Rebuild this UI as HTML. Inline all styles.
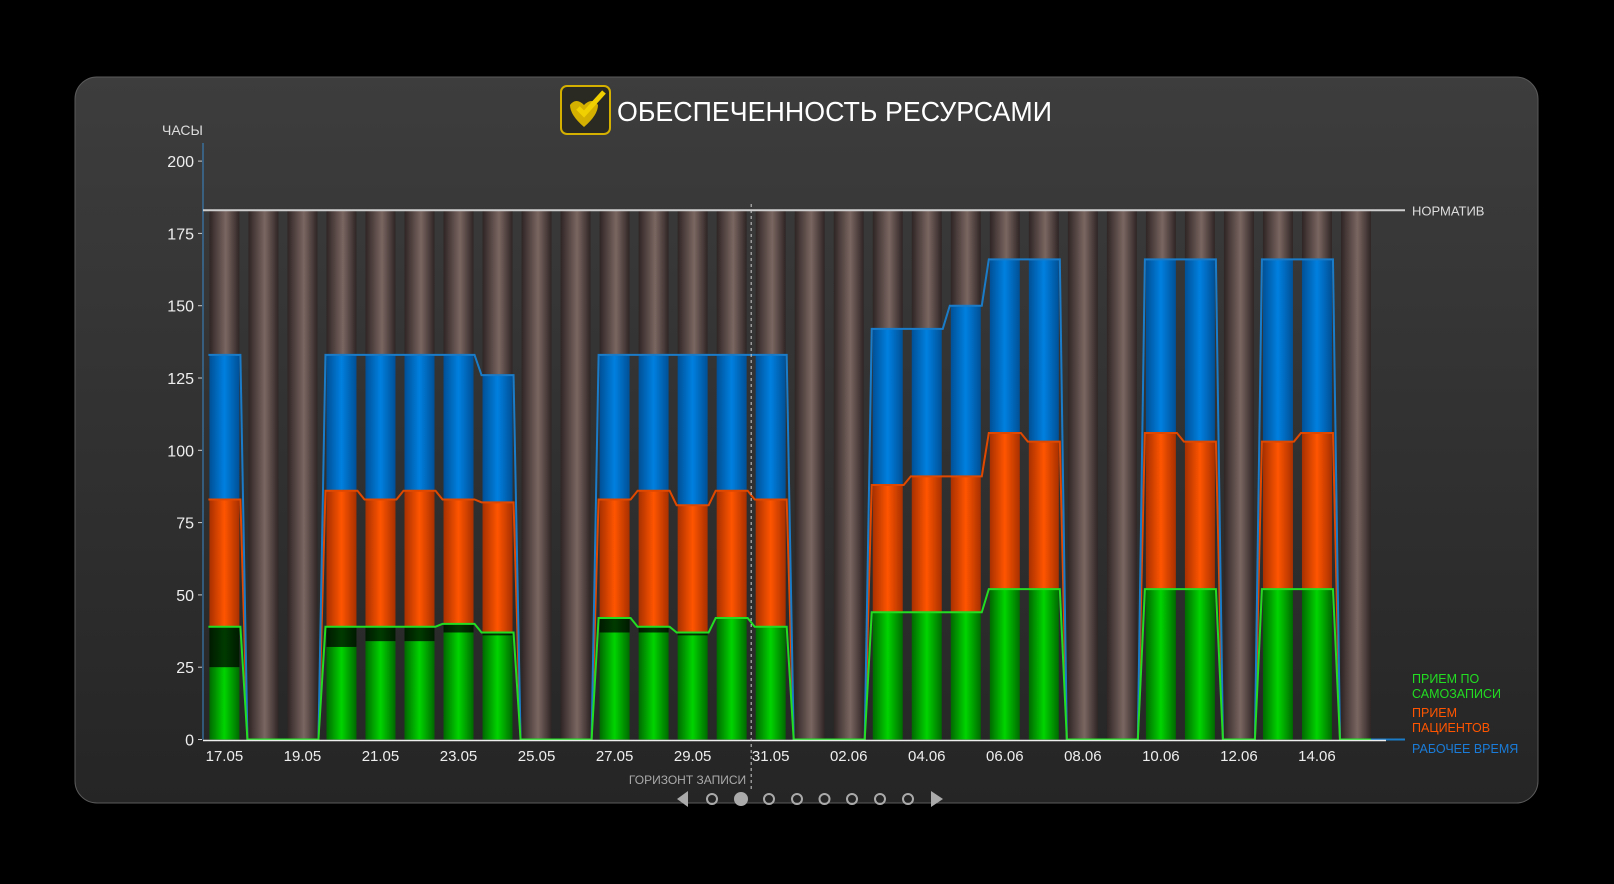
<!DOCTYPE html>
<html><head><meta charset="utf-8"><style>
html,body{margin:0;padding:0;background:#000;}
svg{display:block;font-family:"Liberation Sans",sans-serif;}
</style></head><body>
<svg id="chart" width="1614" height="884" viewBox="0 0 1614 884" xmlns="http://www.w3.org/2000/svg">
<defs>
<linearGradient id="panelG" x1="0" y1="0" x2="0" y2="1"><stop offset="0" stop-color="#3d3d3d"/><stop offset="1" stop-color="#252525"/></linearGradient>
<linearGradient id="gGrey" x1="0" x2="1"><stop offset="0" stop-color="#2f2525"/><stop offset="0.55" stop-color="#7a6661"/><stop offset="1" stop-color="#2f2525"/></linearGradient>
<linearGradient id="gBlue" x1="0" x2="1"><stop offset="0" stop-color="#005096"/><stop offset="0.5" stop-color="#0080e0"/><stop offset="1" stop-color="#005096"/></linearGradient>
<linearGradient id="gOrange" x1="0" x2="1"><stop offset="0" stop-color="#a83000"/><stop offset="0.5" stop-color="#ff5500"/><stop offset="1" stop-color="#a83000"/></linearGradient>
<linearGradient id="gGreen" x1="0" x2="1"><stop offset="0" stop-color="#006a00"/><stop offset="0.5" stop-color="#00d400"/><stop offset="1" stop-color="#006a00"/></linearGradient>
<linearGradient id="gDark" x1="0" x2="1"><stop offset="0" stop-color="#001a00"/><stop offset="0.5" stop-color="#003a00"/><stop offset="1" stop-color="#001a00"/></linearGradient>
</defs>
<rect x="75" y="77" width="1463" height="726" rx="22" fill="url(#panelG)" stroke="#5a5a5a"/>
<g>
<rect x="561" y="86" width="49" height="48" rx="6" fill="#2a2a22" stroke="#d4b000" stroke-width="2"/>
<path d="M570 105 q6-8 14 0 q8-8 14 0 q0 10 -14 22 q-14 -12 -14 -22z" fill="#d4b000"/>
<path d="M578 108 l6 6 l20 -22" stroke="#f0d000" stroke-width="5" fill="none"/>
</g>
<text x="617" y="121" font-size="28" fill="#fff" textLength="435" lengthAdjust="spacingAndGlyphs">ОБЕСПЕЧЕННОСТЬ РЕСУРСАМИ</text>
<text x="162" y="135" font-size="14" fill="#ddd">ЧАСЫ</text>
<g id="plot"></g>
</svg>
<script>
const dates=["17.05","18.05","19.05","20.05","21.05","22.05","23.05","24.05","25.05","26.05","27.05","28.05","29.05","30.05","31.05","01.06","02.06","03.06","04.06","05.06","06.06","07.06","08.06","09.06","10.06","11.06","12.06","13.06","14.06","15.06"];
const workTime=[133,0,0,133,133,133,133,126,0,0,133,133,133,133,133,0,0,142,142,150,166,166,0,0,166,166,0,166,166,0];
const patients=[83,0,0,86,83,86,83,82,0,0,83,86,81,86,83,0,0,88,91,91,106,103,0,0,106,103,0,103,106,0];
const selfRecord=[39,0,0,39,39,39,40,37,0,0,42,39,37,42,39,0,0,44,44,44,52,52,0,0,52,52,0,52,52,0];
const selfFilled=[25,0,0,32,34,34,37,36,0,0,37,37,36,42,39,0,0,44,44,44,52,52,0,0,52,52,0,52,52,0];
const yTicks=[0,25,50,75,100,125,150,175,200];
const norm=183;
const horizonIndex=13.5;

const NS="http://www.w3.org/2000/svg";
const plot=document.getElementById('plot');
const y0=739.5, perUnit=2.892, x0=224.4, step=39.02, bw=30;
const Y=v=>y0-v*perUnit;
const X=i=>x0+i*step;
function mk(tag,attrs,parent){const e=document.createElementNS(NS,tag);for(const k in attrs)e.setAttribute(k,attrs[k]);(parent||plot).appendChild(e);return e;}

// axis
const ax=mk('line',{x1:203,y1:143,x2:203,y2:y0,stroke:'#3a88c8','stroke-width':1});


yTicks.forEach(t=>{
  const tk=mk('line',{x1:198,x2:202,y1:Y(t),y2:Y(t),stroke:'#ccc'});
  
  
  const tl=mk('text',{x:194,y:Y(t)+6,'font-size':16,fill:'#eee','text-anchor':'end'});
  tl.textContent=t;
  
  
});

// bars
dates.forEach((d,i)=>{
  const g=mk('g',{});
  
  
  const l=X(i)-bw/2;
  const seg=(a,b,fill,name)=>{if(b<=a)return;const r=mk('rect',{x:l,y:Y(b),width:bw,height:Y(a)-Y(b),fill:fill},g);
    
    };
  seg(workTime[i],norm,'url(#gGrey)','bar-capacity');
  seg(patients[i],workTime[i],'url(#gBlue)','bar-work-time');
  seg(selfRecord[i],patients[i],'url(#gOrange)','bar-patients');
  seg(selfFilled[i],selfRecord[i],'url(#gDark)','bar-self-record-remaining');
  seg(0,selfFilled[i],'url(#gGreen)','bar-self-record');
  if(i%2===0){const t=mk('text',{x:X(i),y:761,'font-size':15,fill:'#eee','text-anchor':'middle'});
    t.textContent=d;
    
    }
});

// lines
function poly(arr,color,name){
  let pts=[];arr.forEach((v,i)=>{pts.push((X(i)-bw/2-1)+','+Y(v));pts.push((X(i)+bw/2+1)+','+Y(v));});
  const p=mk('polyline',{points:pts.join(' '),fill:'none',stroke:color,'stroke-width':2});
  
  
}
poly(patients,'#e04800','patients-line');
poly(workTime,'#1a7cc8','work-time-line');
poly(selfRecord,'#22dd22','self-record-line');
const bl=mk('line',{x1:X(29)+bw/2,x2:1405,y1:Y(0),y2:Y(0),stroke:'#1a7cc8','stroke-width':2});


const xa=mk('line',{x1:203,x2:1386,y1:y0+1,y2:y0+1,stroke:'#eee','stroke-width':1.5});



// norm
const nl=mk('line',{x1:203,x2:1405,y1:Y(norm),y2:Y(norm),stroke:'#cfcfcf','stroke-width':2});


const nt=mk('text',{x:1412,y:Y(norm)+5,'font-size':13,fill:'#ddd'});nt.textContent='НОРМАТИВ';



// horizon
const hx=X(horizonIndex);
const hl=mk('line',{x1:hx,x2:hx,y1:204,y2:790,stroke:'#ccc','stroke-dasharray':'3,3','stroke-width':1});


const ht=mk('text',{x:hx-5,y:784,'font-size':12,fill:'#aaa','text-anchor':'end'});ht.textContent='ГОРИЗОНТ ЗАПИСИ';



// legend
[['ПРИЕМ ПО',683,'#22dd22'],['САМОЗАПИСИ',698,'#22dd22'],['ПРИЕМ',717,'#ff5500'],['ПАЦИЕНТОВ',732,'#ff5500'],['РАБОЧЕЕ ВРЕМЯ',753,'#1a7cd8']].forEach(a=>{
  const t=mk('text',{x:1412,y:a[1],'font-size':12.5,fill:a[2]});t.textContent=a[0];
  
  
});

// pagination
const la=mk('polygon',{points:'677,791 677,807 688,799',fill:'#aaa',transform:'rotate(180 682.5 799)'});


[712,741,769,797,824.5,852,880,908].forEach((cx,k)=>{
  const c=mk('circle',{cx:cx,cy:799,r:k===1?6:5,fill:k===1?'#aaa':'none',stroke:'#aaa','stroke-width':2});
  
  
});
const ra=mk('polygon',{points:'931,791 931,807 943,799',fill:'#aaa'});


</script>
</body></html>
